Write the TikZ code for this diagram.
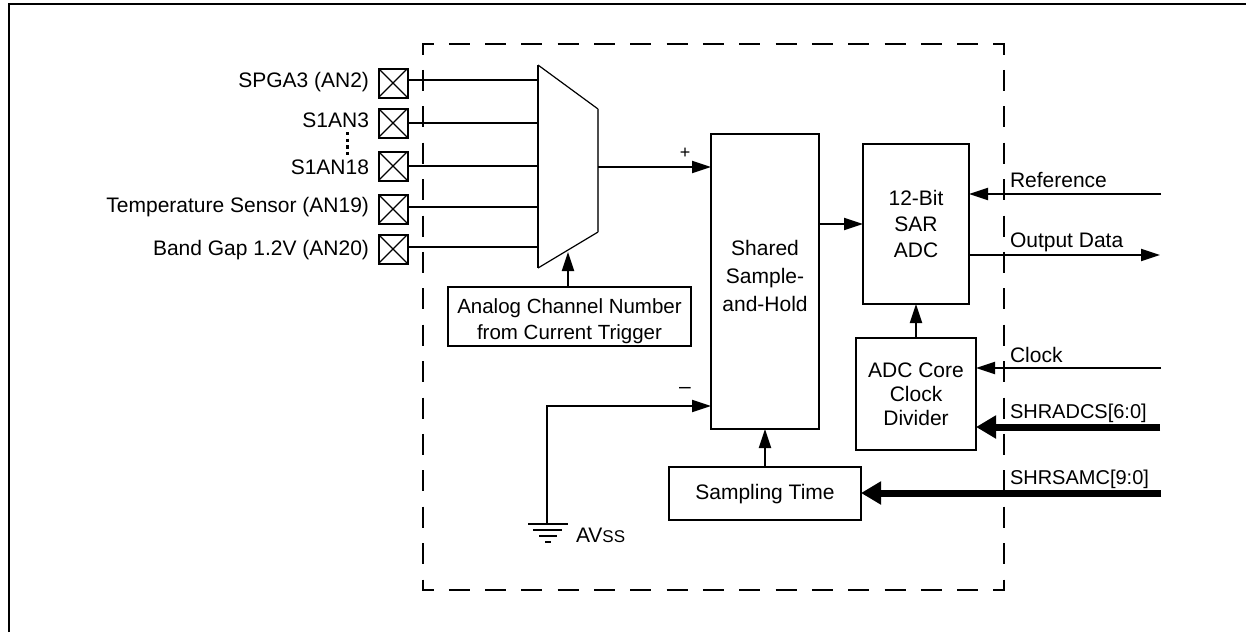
\documentclass[tikz,border=0pt]{standalone}
\usepackage{fontspec}
\setmainfont{Liberation Sans}
\usetikzlibrary{arrows.meta}
\tikzset{
  x=1pt,y=-1pt,
  every node/.style={font=\fontsize{21}{26}\selectfont,inner sep=0pt,outer sep=0pt},
  blockbox/.style={draw,line width=2pt,align=center,anchor=north west},
  padbox/.style={draw,line width=2pt,minimum width=29pt,minimum height=29pt,anchor=center},
  wire/.style={line width=2pt},
  sig/.style={line width=2pt,-{Triangle[length=19pt,width=12pt]}},
  bus/.style={line width=7pt,-{Triangle[length=20pt,width=22pt]}},
  lab/.style={anchor=base west},
  padlab/.style={anchor=base east},
  hdash/.style={line width=2pt,dash pattern=on 21pt off 15.31pt,dash phase=9.5pt},
  vdash/.style={line width=2pt,dash pattern=on 21pt off 15.4pt,dash phase=9.5pt},
}
\newcommand{\blk}[8]{\node[blockbox,minimum width=#4-#2,minimum height=#5-#3,font=\fontsize{#8}{#7}\selectfont] (#1) at (#2,#3) {#6};}
\begin{document}
\begin{tikzpicture}
\useasboundingbox (0,0) rectangle (1246,632);
% outer frame
\coordinate (fa) at (9,632); \coordinate (fb) at (9,4); \coordinate (fc) at (1246,4);
\draw[line width=2pt] (fa) -- (fb) -- (fc);
% dashed boundary
\coordinate (dnw) at (422,44); \coordinate (dne) at (1005,44);
\coordinate (dsw) at (422,590); \coordinate (dse) at (1005,590);
\draw[hdash] (dnw) -- (dne);
\draw[hdash] (dsw) -- (dse);
\draw[vdash] (423,43) -- (423,591);
\draw[vdash] (1004,43) -- (1004,591);
% pads
\foreach \n/\y in {a/83,b/123,c/166,d/209,e/249}{
  \node[padbox] (pad\n) at (393,\y) {};
  \draw[line width=1.1pt] (pad\n.north west) -- (pad\n.south east) (pad\n.north east) -- (pad\n.south west);
}
\node[padlab] (la) at (369,87) {SPGA3 (AN2)};
\node[padlab] (lb) at (369,127) {S1AN3};
\node[padlab] (lc) at (369,174) {S1AN18};
\node[padlab] (ld) at (369,212) {Temperature Sensor (AN19)};
\node[padlab] (le) at (369,255) {Band Gap 1.2V (AN20)};
\coordinate (dota) at (347,132); \coordinate (dotb) at (347,155);
\draw[line width=3pt,dash pattern=on 3.4pt off 3.2pt] (dota) -- (dotb);
% mux
\draw[line width=2pt] (538,65) -- (538,268);
\draw[line width=1.2pt] (538,65) -- (598,109);
\draw[line width=1.2pt] (538,268) -- (598,232);
\draw[line width=1.2pt,black!70] (598,109) -- (598,232);
\coordinate (muxa) at (538,80); \coordinate (muxb) at (538,123); \coordinate (muxc) at (538,166); \coordinate (muxd) at (538,207); \coordinate (muxe) at (538,247);
\coordinate (muxo) at (598,167); \coordinate (muxs) at (568,252);
\draw[wire] (pada.east |- muxa) -- (muxa);
\draw[wire] (padb.east |- muxb) -- (muxb);
\draw[wire] (padc.east |- muxc) -- (muxc);
\draw[wire] (padd.east |- muxd) -- (muxd);
\draw[wire] (pade.east |- muxe) -- (muxe);
% blocks
\blk{ach}{448}{287}{691}{346}{}{26}{20.5}
\node[align=center,font=\fontsize{20.5}{26}\selectfont,yshift=-5pt] (achtext) at (ach.center) {Analog Channel Number\\from Current Trigger};
\blk{sh}{711}{134}{819}{429}{Shared\\Sample-\\and-Hold\\[-16pt]\mbox{}}{28}{21}
\blk{sar}{863}{144}{969}{304}{12-Bit\\SAR\\ADC}{26}{21}
\blk{div}{856}{338}{976}{450}{ADC Core\\Clock\\Divider}{24}{21}
\blk{smp}{669}{467}{861}{520}{}{26}{21}
\node[yshift=-1pt] (smptext) at (smp.center) {Sampling Time};
% connectors
\draw[sig] (ach.north -| muxs) -- (muxs);
\draw[sig] (muxo) -- (muxo -| sh.west);
\node (plus) at (685,153) {\fontsize{18}{18}\selectfont +};
\node (minus) at (685,390) {–};
\coordinate (gnd) at (547,524);
\draw[sig] (gnd) |- (sh.west |- 0,406);
\draw[sig] (sh.east |- 0,224) -- (sar.west |- 0,224);
\draw[sig] (smp.north -| 765,0) -- (sh.south -| 765,0);
\draw[sig] (div.north -| 916,0) -- (sar.south -| 916,0);
\coordinate (refe) at (1161,194); \coordinate (oute) at (1160,255); \coordinate (clke) at (1161,368); \coordinate (cse) at (1160,427); \coordinate (same) at (1161,493);
\draw[sig] (refe) -- (refe -| sar.east);
\draw[sig] (sar.east |- oute) -- (oute);
\draw[sig] (clke) -- (clke -| div.east);
\draw[bus] (cse) -- (cse -| div.east);
\draw[bus] (same) -- (same -| smp.east);
% ground
\coordinate (g1a) at (528,524); \coordinate (g1b) at (568,524);
\coordinate (g2a) at (533,530); \coordinate (g2b) at (562,530);
\coordinate (g3a) at (539,536); \coordinate (g3b) at (557,536);
\coordinate (g4a) at (545,542); \coordinate (g4b) at (551,542);
\draw[wire] (g1a) -- (g1b) (g2a) -- (g2b) (g3a) -- (g3b) (g4a) -- (g4b);
\node[lab] (av) at (576,542) {AV{\fontsize{17}{17}\selectfont SS}};
% labels
\node[lab] (lref) at (1010,187) {Reference};
\node[lab] (lout) at (1010,247) {Output Data};
\node[lab] (lclk) at (1010,362) {Clock};
\node[lab,font=\fontsize{20}{24}\selectfont] (lcs) at (1010,418) {SHRADCS[6:0]};
\node[lab,font=\fontsize{20}{24}\selectfont] (lsam) at (1010,484) {SHRSAMC[9:0]};
\end{tikzpicture}
\end{document}
